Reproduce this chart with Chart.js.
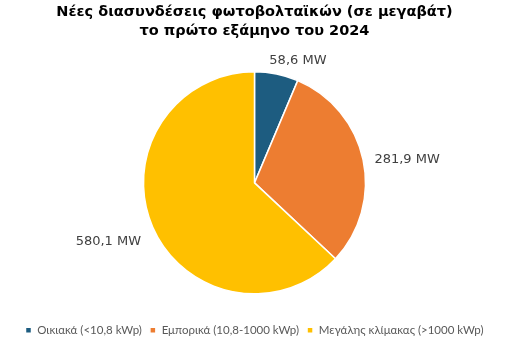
<!DOCTYPE html>
<html><head><meta charset="utf-8">
<script src="https://cdn.jsdelivr.net/npm/chart.js@4"></script>
<style>html,body{margin:0;padding:0;background:#fff}#w{width:509px;height:351px}</style>
</head><body><div id="w"><canvas id="c"></canvas></div>
<script>
const categories = ["Οικιακά (<10,8 kWp)", "Εμπορικά (10,8-1000 kWp)", "Μεγάλης κλίμακας (>1000 kWp)"];
const values = [58.6, 281.9, 580.1];
const valueLabels = ["58,6 MW", "281,9 MW", "580,1 MW"];
const titleLines = ["Νέες διασυνδέσεις φωτοβολταϊκών (σε μεγαβάτ)", "το πρώτο εξάμηνο του 2024"];
const colors = ["#1D5C80", "#ED7D31", "#FFC000"];

const labelPlugin = {
  id: 'outLabels',
  afterDatasetsDraw(chart, args, opts) {
    const ctx = chart.ctx;
    const meta = chart.getDatasetMeta(0);
    ctx.save();
    ctx.font = opts.font;
    ctx.fillStyle = opts.color;
    ctx.textAlign = 'center';
    ctx.textBaseline = 'middle';
    meta.data.forEach((arc, i) => {
      const p = arc.getProps(['x','y','startAngle','endAngle','outerRadius'], true);
      const mid = (p.startAngle + p.endAngle) / 2;
      const d = p.outerRadius + opts.distance[i];
      const x = p.x + Math.cos(mid) * d + opts.shift[i][0];
      const y = p.y + Math.sin(mid) * d + opts.shift[i][1];
      ctx.fillText(valueLabels[i], x, y);
    });
    ctx.restore();
  }
};

new Chart(document.getElementById('c'), {
  type: 'pie',
  data: {
    labels: categories,
    datasets: [{
      data: values,
      backgroundColor: colors,
      borderColor: '#ffffff',
      borderWidth: 1.5,
      radius: 111
    }]
  },
  options: {
    responsive: true,
    maintainAspectRatio: false,
    animation: false,
    layout: { padding: { top: 0, left: 0, right: 0, bottom: 5 } },
    plugins: {
      title: {
        display: true,
        text: titleLines,
        color: '#000000',
        font: { family: 'DejaVu Sans', size: 14.5, weight: 'bold', lineHeight: 1.3 },
        padding: { top: 2.5, bottom: 9 }
      },
      legend: {
        position: 'bottom',
        labels: {
          color: '#595959',
          font: { family: 'Lato', size: 11.5 },
          boxWidth: 6, boxHeight: 6,
          padding: 8
        }
      },
      tooltip: { enabled: false },
      outLabels: {
        font: '13px "DejaVu Sans"',
        color: '#404040',
        distance: [22, 45, 45],
        shift: [[17, 8], [0, 9], [-3, -3]]
      }
    }
  },
  plugins: [labelPlugin]
});
</script>
</body></html>
